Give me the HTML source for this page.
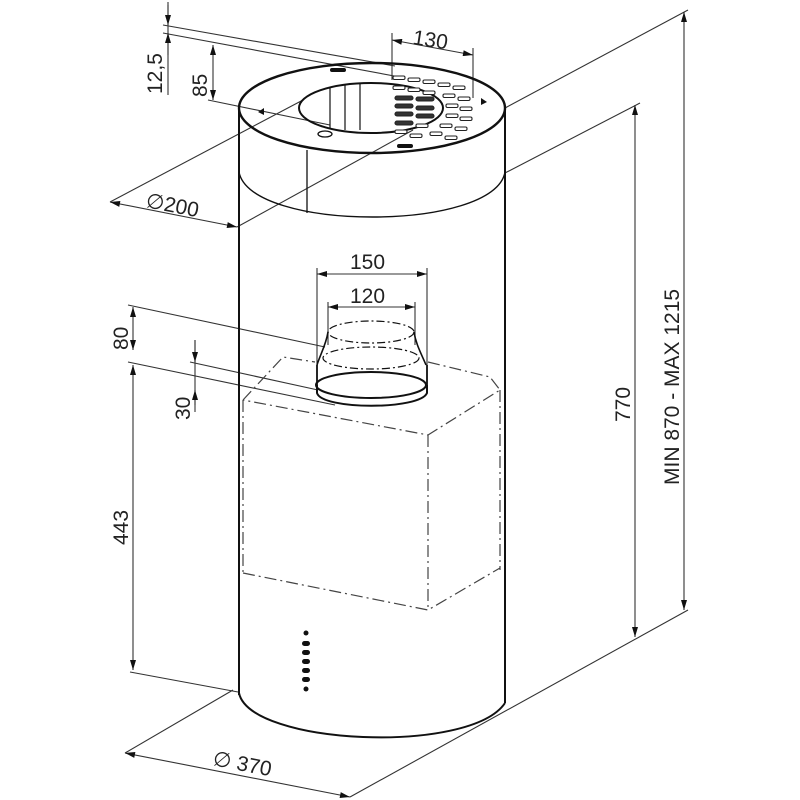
<!DOCTYPE html>
<html><head><meta charset="utf-8"><style>
html,body{margin:0;padding:0;background:#fff}
svg{display:block}
text{font-family:"Liberation Sans",sans-serif;font-size:21px;fill:#222}
</style></head><body>
<svg width="800" height="800" viewBox="0 0 800 800" xmlns="http://www.w3.org/2000/svg">
<defs>
<marker id="a" viewBox="0 0 10 6" refX="10" refY="3" markerWidth="11" markerHeight="6" markerUnits="userSpaceOnUse" orient="auto-start-reverse"><path d="M0,0L10,3L0,6z" fill="#111"/></marker>
<clipPath id="hole"><ellipse cx="371" cy="108" rx="72" ry="25"/></clipPath>
</defs>
<g stroke="#333" stroke-width="1.1" fill="none">
<line x1="163" y1="25" x2="395" y2="66"/>
<line x1="163" y1="33" x2="405" y2="78"/>
<line x1="208" y1="100" x2="330" y2="125"/>
<line x1="168" y1="2" x2="168" y2="95"/>
<line x1="168" y1="5" x2="168" y2="25" marker-end="url(#a)"/>
<line x1="168" y1="55" x2="168" y2="33" marker-end="url(#a)"/>
<line x1="213" y1="45" x2="213" y2="100" marker-start="url(#a)" marker-end="url(#a)"/>
<line x1="392" y1="33" x2="392" y2="80"/>
<line x1="473" y1="48" x2="473" y2="98"/>
<line x1="392" y1="40" x2="473" y2="55" marker-start="url(#a)" marker-end="url(#a)"/>
<line x1="110" y1="202" x2="303" y2="100"/>
<line x1="237" y1="227" x2="413" y2="130"/>
<line x1="110" y1="202" x2="237" y2="227" marker-start="url(#a)" marker-end="url(#a)"/>
<line x1="505" y1="108" x2="688" y2="10"/>
<line x1="505" y1="173" x2="640" y2="103"/>
<line x1="684" y1="12" x2="684" y2="610" marker-start="url(#a)" marker-end="url(#a)"/>
<line x1="635" y1="105" x2="635" y2="637" marker-start="url(#a)" marker-end="url(#a)"/>
<line x1="688" y1="610" x2="350" y2="797"/>
<line x1="233" y1="690" x2="125" y2="753"/>
<line x1="125" y1="753" x2="350" y2="797" marker-start="url(#a)" marker-end="url(#a)"/>
<line x1="128" y1="305" x2="325" y2="347"/>
<line x1="128" y1="362" x2="335" y2="405"/>
<line x1="190" y1="362" x2="318" y2="390"/>
<line x1="130" y1="672" x2="238" y2="692"/>
<line x1="133" y1="307" x2="133" y2="350" marker-start="url(#a)" marker-end="url(#a)"/>
<line x1="133" y1="365" x2="133" y2="670" marker-start="url(#a)" marker-end="url(#a)"/>
<line x1="195" y1="340" x2="195" y2="412"/>
<line x1="195" y1="340" x2="195" y2="362" marker-end="url(#a)"/>
<line x1="195" y1="405" x2="195" y2="390" marker-end="url(#a)"/>
<line x1="317" y1="268" x2="317" y2="385"/>
<line x1="427" y1="268" x2="427" y2="385"/>
<line x1="328" y1="302" x2="328" y2="345"/>
<line x1="415" y1="302" x2="415" y2="345"/>
<line x1="317" y1="274" x2="427" y2="274" marker-start="url(#a)" marker-end="url(#a)"/>
<line x1="328" y1="307" x2="415" y2="307" marker-start="url(#a)" marker-end="url(#a)"/>
</g>
<g stroke="#111" stroke-width="2" fill="none">
<line x1="239" y1="108" x2="239" y2="695"/>
<line x1="505" y1="108" x2="505" y2="703"/>
<path d="M239,693 C250,745 470,755 505,703"/>
<path d="M239,172 C250,232 495,232 505,172" stroke-width="1.4"/>
<ellipse cx="372" cy="108" rx="133" ry="45" stroke-width="2.4"/>
<ellipse cx="371" cy="108" rx="72" ry="25"/>
<line x1="307" y1="150" x2="307" y2="213" stroke-width="1.3"/>
</g>
<g clip-path="url(#hole)" stroke="#111" stroke-width="1.2" fill="none">
<line x1="330" y1="85" x2="330" y2="130"/><line x1="345" y1="85" x2="345" y2="130"/><line x1="360" y1="84" x2="360" y2="130"/>
</g>
<g fill="#fff" stroke="#222" stroke-width="1.1">
<rect x="393" y="76" width="12" height="3.5" rx="1.5"/><rect x="408" y="78" width="12" height="3.5" rx="1.5"/><rect x="423" y="80" width="12" height="3.5" rx="1.5"/><rect x="438" y="83" width="12" height="3.5" rx="1.5"/><rect x="453" y="86" width="12" height="3.5" rx="1.5"/>
<rect x="393" y="86" width="12" height="3.5" rx="1.5"/><rect x="408" y="88" width="12" height="3.5" rx="1.5"/><rect x="423" y="91" width="12" height="3.5" rx="1.5"/><rect x="443" y="94" width="12" height="3.5" rx="1.5"/><rect x="458" y="97" width="12" height="3.5" rx="1.5"/>
<rect x="395" y="96" width="18" height="4" rx="2" fill="#333"/><rect x="416" y="97" width="18" height="4" rx="2" fill="#333"/><rect x="446" y="104" width="12" height="3.5" rx="1.5"/><rect x="460" y="107" width="12" height="3.5" rx="1.5"/>
<rect x="395" y="104" width="18" height="4" rx="2" fill="#333"/><rect x="416" y="106" width="18" height="4" rx="2" fill="#333"/><rect x="446" y="114" width="12" height="3.5" rx="1.5"/><rect x="460" y="117" width="12" height="3.5" rx="1.5"/>
<rect x="395" y="112" width="18" height="4" rx="2" fill="#333"/><rect x="416" y="114" width="18" height="4" rx="2" fill="#333"/><rect x="440" y="124" width="12" height="3.5" rx="1.5"/><rect x="455" y="127" width="12" height="3.5" rx="1.5"/>
<rect x="395" y="121" width="18" height="4" rx="2" fill="#333"/><rect x="416" y="124" width="12" height="3.5" rx="1.5"/><rect x="430" y="132" width="12" height="3.5" rx="1.5"/><rect x="445" y="136" width="12" height="3.5" rx="1.5"/>
<rect x="395" y="130" width="12" height="3.5" rx="1.5"/><rect x="410" y="134" width="12" height="3.5" rx="1.5"/>
</g>
<g fill="#111">
<ellipse cx="325" cy="134" rx="7" ry="3" fill="none" stroke="#111" stroke-width="1.3"/>
<rect x="330" y="68" width="16" height="4" rx="2"/><rect x="397" y="144" width="16" height="4" rx="2"/>
<path d="M258,112 l6,-4 l0,7z"/><path d="M487,102 l-6,-4 l0,7z"/>
</g>
<g stroke="#111" fill="none">
<ellipse cx="371" cy="332" rx="43" ry="11" stroke-dasharray="8 3 2 3" stroke-width="1.2"/>
<ellipse cx="371" cy="358" rx="48" ry="11" stroke-dasharray="8 3 2 3" stroke-width="1.2"/>
<path d="M328,332 C326,345 320,355 317,365 M414,332 C416,345 422,355 426,365" stroke-width="1.6"/>
<ellipse cx="371" cy="385" rx="55" ry="13" stroke-width="2"/>
<path d="M317,385 L317,393 C322,410 420,410 427,393 L427,385" stroke-width="2"/>
<line x1="317" y1="365" x2="317" y2="385" stroke-width="1.8"/><line x1="427" y1="365" x2="427" y2="385" stroke-width="1.8"/>
</g>
<g stroke="#444" stroke-width="1.2" fill="none" stroke-dasharray="12 4 2 4">
<polyline points="243,400 283,357 315,362"/>
<polyline points="428,362 490,377 500,390 428,435 243,400"/>
<line x1="243" y1="400" x2="243" y2="573"/>
<line x1="428" y1="435" x2="428" y2="610"/>
<line x1="500" y1="390" x2="500" y2="570"/>
<polyline points="243,573 428,610 500,568"/>
</g>
<g fill="#111">
<circle cx="306" cy="633" r="2.5"/>
<rect x="302" y="641" width="8" height="5" rx="2.5"/><rect x="302" y="650" width="8" height="5" rx="2.5"/><rect x="302" y="659" width="8" height="5" rx="2.5"/><rect x="302" y="668" width="8" height="5" rx="2.5"/><rect x="302" y="677" width="8" height="5" rx="2.5"/>
<circle cx="306" cy="689" r="2.5"/>
</g>
<text transform="translate(162,94) rotate(-90)">12,5</text>
<text transform="translate(207,97) rotate(-90)">85</text>
<text transform="translate(412,44) rotate(9)">130</text>
<text transform="translate(145,207) rotate(11)">∅200</text>
<text x="350" y="269">150</text>
<text x="350" y="303">120</text>
<text transform="translate(128,350) rotate(-90)">80</text>
<text transform="translate(190,420) rotate(-90)">30</text>
<text transform="translate(128,545) rotate(-90)">443</text>
<text transform="translate(630,422) rotate(-90)">770</text>
<text transform="translate(679,485) rotate(-90)">MIN 870 - MAX 1215</text>
<text transform="translate(212,765) rotate(11)">∅ 370</text>
</svg>
</body></html>
